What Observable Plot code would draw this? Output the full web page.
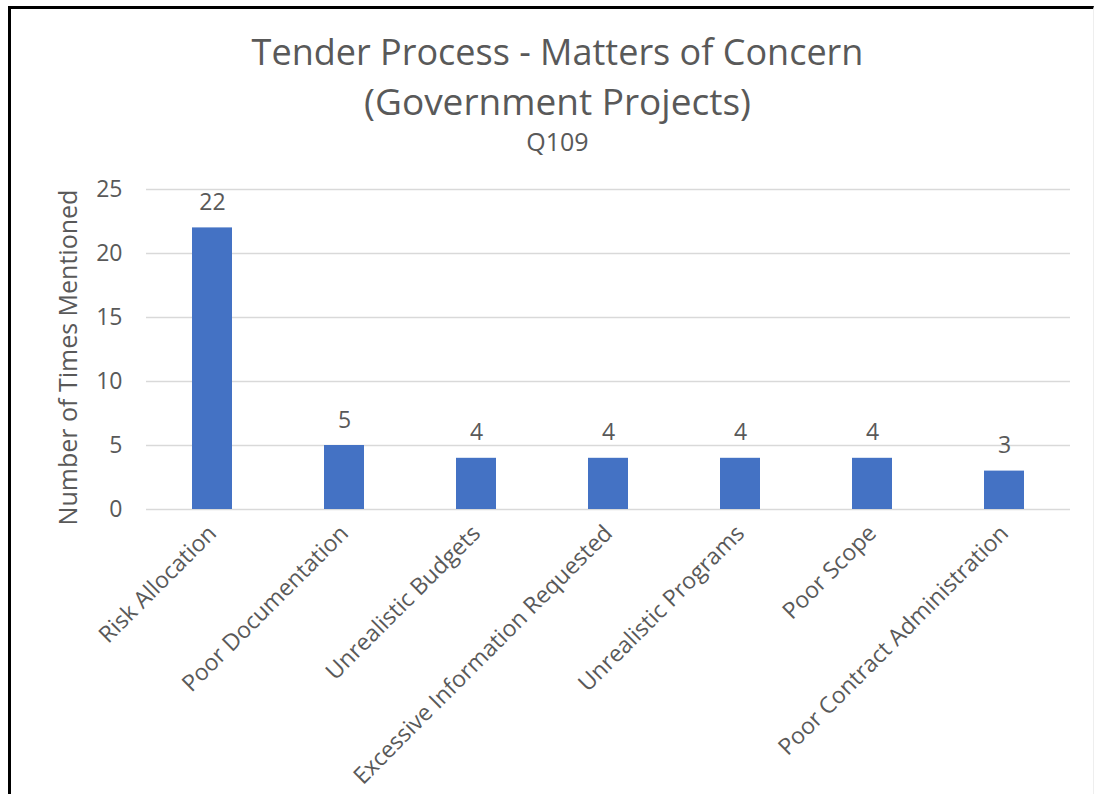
<!DOCTYPE html>
<html>
<head>
<meta charset="utf-8">
<script src="https://cdn.jsdelivr.net/npm/d3@7"></script>
<script src="https://cdn.jsdelivr.net/npm/@observablehq/plot@0.6"></script>
<style>
  html, body { margin: 0; padding: 0; background: #fff; }
  #wrap { position: relative; width: 1095px; height: 794px; overflow: hidden; font-family: "Open Sans", sans-serif; }
  #frame { position: absolute; left: 8px; top: 6px; width: 1086px; height: 800px; border-left: 3px solid #000; border-top: 3px solid #000; border-right: 1px solid #eee; box-sizing: border-box; pointer-events: none; z-index: 3; }
  .t { position: absolute; left: 0; width: 1115px; text-align: center; color: #595959; z-index: 2; white-space: nowrap; }
  #chart { position: absolute; left: 0; top: 0; }
</style>
</head>
<body>
<div id="wrap">
  <div id="chart"></div>
  <div class="t" style="top:28px; font-size:36px; line-height:48px;">Tender Process - Matters of Concern</div>
  <div class="t" style="top:77px; font-size:37px; line-height:48px;">(Government Projects)</div>
  <div class="t" style="top:127px; font-size:25px; line-height:28px;">Q109</div>
  <div id="frame"></div>
</div>
<script>
const categories = ["Risk Allocation", "Poor Documentation", "Unrealistic Budgets", "Excessive Information Requested", "Unrealistic Programs", "Poor Scope", "Poor Contract Administration"];
const counts = [22, 5, 4, 4, 4, 4, 3];
const yTicks = [0, 5, 10, 15, 20, 25];
const yLabel = "Number of Times Mentioned";

const data = categories.map((c, i) => ({category: c, value: counts[i]}));

const chart = Plot.plot({
  width: 1095,
  height: 794,
  marginTop: 189,
  marginBottom: 285,
  marginLeft: 146,
  marginRight: 25,
  style: {background: "transparent", fontFamily: "Open Sans, sans-serif", color: "#595959"},
  x: {domain: categories, paddingInner: 0.7, paddingOuter: 0.35, label: null},
  y: {domain: [0, 25], ticks: yTicks, label: null},
  marks: [
    Plot.ruleY(yTicks, {stroke: "#D9D9D9", strokeWidth: 1.5}),
    Plot.barY(data, {x: "category", y: "value", fill: "#4472C4"}),
    Plot.text(data, {x: "category", y: "value", text: d => String(d.value), dy: -18, lineAnchor: "bottom", fill: "#595959", fontSize: 23}),
    Plot.axisY({ticks: yTicks, tickSize: 0, tickPadding: 24, fontSize: 23, fill: "#595959", label: null}),
    Plot.axisX({tickSize: 0, tickRotate: -45, tickPadding: 20, fontSize: 23, fill: "#595959", label: null}),
    Plot.text([yLabel], {frameAnchor: "left", textAnchor: "middle", dx: -78, dy: 8, rotate: -90, text: d => d, fontSize: 25, fill: "#595959"})
  ]
});
document.getElementById("chart").appendChild(chart);
</script>
</body>
</html>
